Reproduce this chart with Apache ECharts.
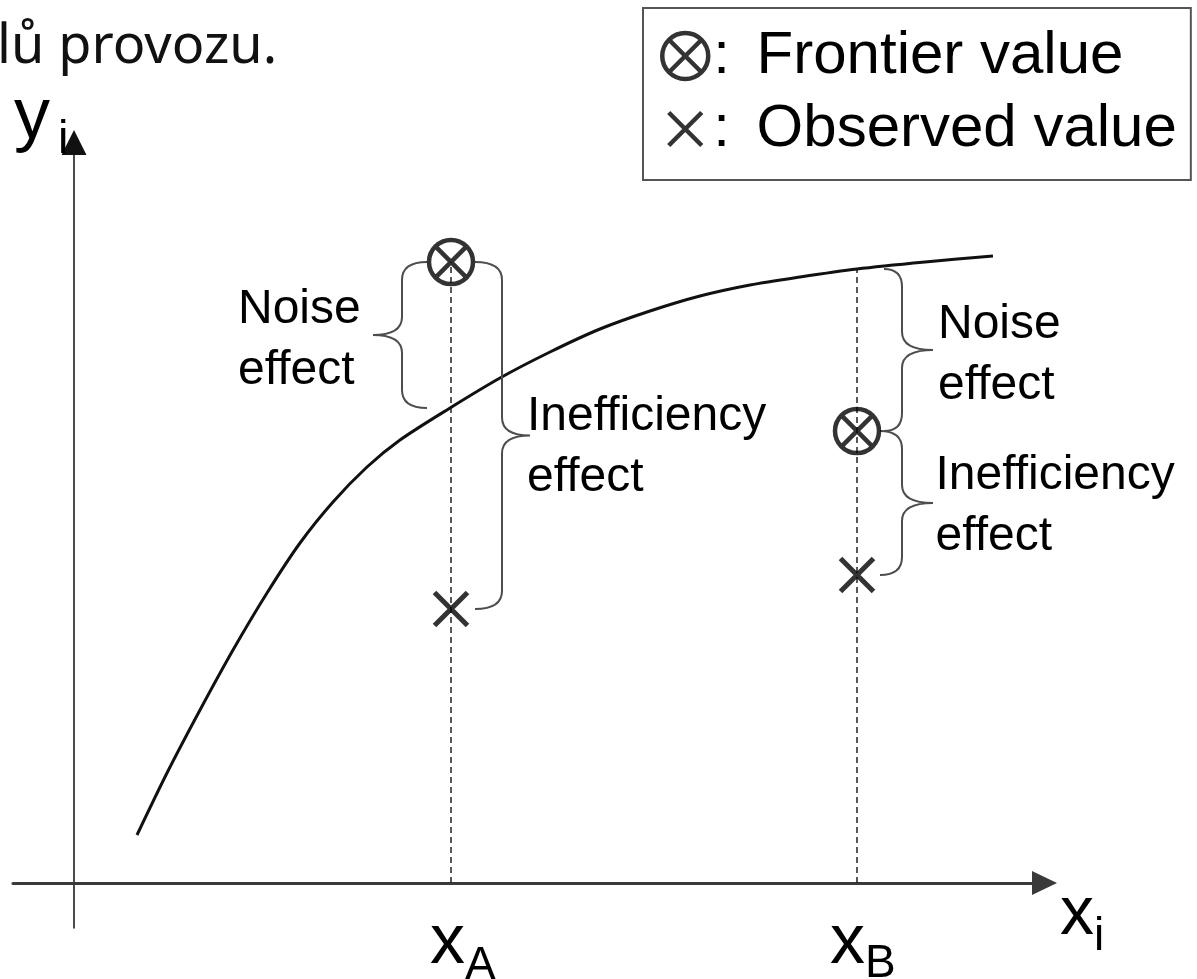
<!DOCTYPE html>
<html>
<head>
<meta charset="utf-8">
<script src="https://cdn.jsdelivr.net/npm/echarts@6.0.0/dist/echarts.min.js"></script>
<style>
    html, body { margin: 0; padding: 0; background: #fff; }
    #frontierChart { width: 1197px; height: 979px; }
</style>
</head>
<body>
<div id="frontierChart"></div>
<script>
// values, axis units (1 unit ~ 10 px)
const curveX = [6.3, 9.3, 12.6, 15.9, 19.3, 22.6, 25.9, 29.3, 32.6, 37.6, 42.6, 47.6, 52.6, 57.6, 62.6, 67.6, 72.6, 78.3, 85.1, 91.9];
const curveY = [4.8, 11.0, 17.3, 23.3, 29.0, 34.0, 38.1, 41.6, 44.3, 47.5, 50.5, 53.1, 55.4, 57.2, 58.7, 59.8, 60.6, 61.4, 62.1, 62.7];

const firms = ['A', 'B'];
const firmX = [37.7, 78.3];
const frontierY = [62.1, 45.2];
const observedY = [27.4, 30.8];
const curveAtFirm = [47.5, 61.4];

const effectNames = ['Noise\neffect', 'Inefficiency\neffect'];
const legendNames = ['Frontier value', 'Observed value'];
const axisNames = ['x', 'y'];
const pageText = 'lů provozu.';

const X_MIN = -6.1, X_MAX = 97.05;
const Y_MIN = -4.5, Y_MAX = 74.05;

const FONT = '"Liberation Sans", Arial, sans-serif';
const OTIMES = 'path://M2,22A20,20 0 1 1 42,22A20,20 0 1 1 2,22Z M7.86,7.86L36.14,36.14M36.14,7.86L7.86,36.14';
const CROSS = 'path://M0,0M46,46M6.5,6.5L39.5,39.5M39.5,6.5L6.5,39.5';

// braces: noise = frontier..curve, inefficiency = frontier..observed
const braceData = [];
firms.forEach((f, i) => {
    braceData.push([firmX[i], frontierY[i], curveAtFirm[i]]);
    braceData.push([firmX[i], frontierY[i], observedY[i]]);
});
// pixel layout of each brace: spine offset, tip direction, end/tip length, label offset
const braceLayout = [
    { dx: -49, dir: -1, end: 25, tip: 29, tx: -135, ty: 5 },
    { dx: 51, dir: 1, end: 27, tip: 28, tx: -3, ty: 12 },
    { dx: 45, dir: 1, end: 18, tip: 31, tx: 5, ty: 5 },
    { dx: 45, dir: 1, end: 22, tip: 31, tx: 2.5, ty: 3 }
];

function renderBrace(params, api) {
    const L = braceLayout[params.dataIndex];
    const p1 = api.coord([api.value(0), api.value(1)]);
    const p2 = api.coord([api.value(0), api.value(2)]);
    const sx = p1[0] + L.dx;
    const y1 = Math.min(p1[1], p2[1]);
    const y2 = Math.max(p1[1], p2[1]);
    const ym = (y1 + y2) / 2;
    const r = 18;
    const e = sx - L.dir * L.end;
    const t = sx + L.dir * L.tip;
    const d = 'M' + e + ',' + y1 + ' Q' + sx + ',' + y1 + ' ' + sx + ',' + (y1 + r) +
        ' L' + sx + ',' + (ym - r) + ' Q' + sx + ',' + ym + ' ' + t + ',' + ym +
        ' Q' + sx + ',' + ym + ' ' + sx + ',' + (ym + r) +
        ' L' + sx + ',' + (y2 - r) + ' Q' + sx + ',' + y2 + ' ' + e + ',' + y2;
    return {
        type: 'group',
        children: [
            { type: 'path', shape: { pathData: d }, style: { fill: 'none', stroke: '#4d4d4d', lineWidth: 2 } },
            {
                type: 'text', x: t + L.tx, y: ym + L.ty,
                style: {
                    text: effectNames[params.dataIndex % 2], fontSize: 48, fontFamily: FONT,
                    fill: '#000', align: 'left', verticalAlign: 'middle', lineHeight: 61
                }
            }
        ]
    };
}

// x_A, x_B, x_i, y_i : [dx, baseline dy, font size] from anchor
const letterText = [[axisNames[0], firms[0]], [axisNames[0], firms[1]], [axisNames[0], 'i'], [axisNames[1], 'i']];
const letterLayout = [
    { main: [-21, 79, 70], sub: [14, 95, 46] },
    { main: [-27, 79, 70], sub: [8, 93, 46] },
    { main: [15.5, 50, 68], sub: [49.5, 66, 46] },
    { main: [-60, -6, 72], sub: [-16, 9.5, 47] }
];

function glyph(x, baseline, size, str) {
    return {
        type: 'text', x: x, y: baseline - 0.26 * size,
        style: { text: str, fontSize: size, fontFamily: FONT, fill: '#000', align: 'left', verticalAlign: 'middle' }
    };
}

function renderLetters(params, api) {
    const i = params.dataIndex;
    const p = api.coord([api.value(0), api.value(1)]);
    const L = letterLayout[i];
    return {
        type: 'group',
        children: [
            glyph(p[0] + L.main[0], p[1] + L.main[1], L.main[2], letterText[i][0]),
            glyph(p[0] + L.sub[0], p[1] + L.sub[1], L.sub[2], letterText[i][1])
        ]
    };
}

const chart = echarts.init(document.getElementById('frontierChart'));

const dashSeries = firms.map((f, i) => ({
    type: 'line',
    silent: true,
    symbol: 'none',
    z: 1,
    data: [[firmX[i], 0], [firmX[i], Math.max(frontierY[i], curveAtFirm[i])]],
    lineStyle: { type: [6, 4], width: 1.5, color: '#222' }
}));

chart.setOption({
    animation: false,
    backgroundColor: '#fff',
    title: {
        text: pageText, left: -3, top: 21, padding: 0,
        textStyle: { fontFamily: '"Noto Sans", sans-serif', fontSize: 54, fontWeight: 'normal', color: '#111' }
    },
    legend: {
        data: legendNames,
        orient: 'vertical',
        left: 643, top: 8,
        padding: [17.5, 14, 20.5, 17],
        itemWidth: 46, itemHeight: 46, itemGap: 12,
        borderColor: '#555', borderWidth: 2,
        selectedMode: false,
        formatter: name => '{c|:}' + ' ' + name,
        textStyle: {
            fontFamily: FONT, fontSize: 60, color: '#000', lineHeight: 61,
            rich: { c: { fontFamily: FONT, fontSize: 60, color: '#000', lineHeight: 61, padding: [0, 10, 0, 0] } }
        },
        itemStyle: { color: 'rgba(0,0,0,0)', borderColor: '#000', borderWidth: 4.5 }
    },
    grid: { left: 13, right: 152.5, top: 142.5, bottom: 51 },
    xAxis: {
        type: 'value', min: X_MIN, max: X_MAX,
        axisLine: {
            onZero: true, symbol: ['none', 'triangle'], symbolSize: [24, 25],
            lineStyle: { color: '#3a3a3a', width: 3 }
        },
        axisTick: { show: false }, axisLabel: { show: false }, splitLine: { show: false }
    },
    yAxis: {
        type: 'value', min: Y_MIN, max: Y_MAX,
        axisLine: {
            onZero: true, symbol: ['none', 'triangle'], symbolSize: [25, 25],
            lineStyle: { color: '#111', width: 1.5 }
        },
        axisTick: { show: false }, axisLabel: { show: false }, splitLine: { show: false }
    },
    series: dashSeries.concat([
        {
            type: 'line', name: 'Frontier', silent: true, symbol: 'none', smooth: 0.3, z: 3,
            data: curveX.map((x, i) => [x, curveY[i]]),
            lineStyle: { color: '#111', width: 3 }
        },
        {
            type: 'scatter', name: legendNames[0], silent: true, z: 5,
            symbol: OTIMES, symbolSize: 44,
            data: firmX.map((x, i) => [x, frontierY[i]]),
            itemStyle: { color: 'rgba(0,0,0,0)', borderColor: '#000', borderWidth: 4.5 }
        },
        {
            type: 'scatter', name: legendNames[1], silent: true, z: 5,
            symbol: CROSS, symbolSize: 46,
            data: firmX.map((x, i) => [x, observedY[i]]),
            itemStyle: { color: 'rgba(0,0,0,0)', borderColor: '#000', borderWidth: 5 }
        },
        {
            type: 'custom', silent: true, z: 4,
            renderItem: renderBrace,
            data: braceData
        },
        {
            type: 'custom', silent: true, z: 4,
            renderItem: renderLetters,
            data: [[firmX[0], 0], [firmX[1], 0], [X_MAX, 0], [0, Y_MAX]]
        }
    ])
});
</script>
</body>
</html>
